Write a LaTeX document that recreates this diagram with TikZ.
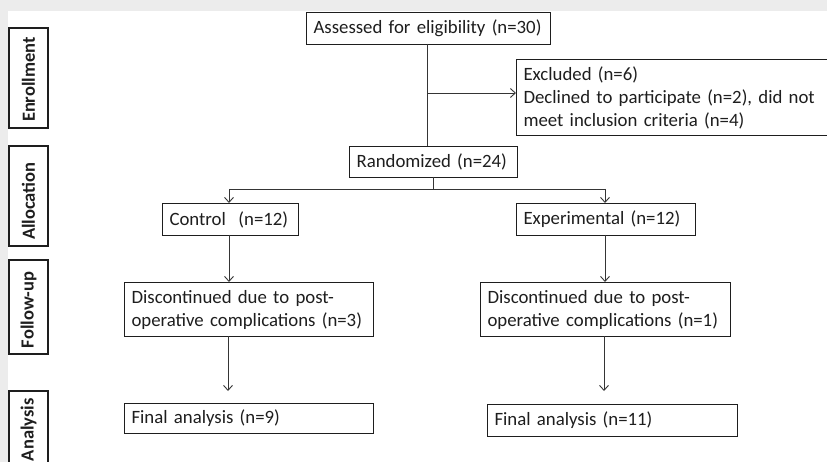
\documentclass[tikz,border=0pt]{standalone}
\usepackage{fontspec}
\setmainfont{Carlito}
\usetikzlibrary{arrows.meta}
\definecolor{bggray}{RGB}{236,236,236}
\definecolor{ink}{RGB}{30,30,30}
\begin{document}
\begin{tikzpicture}[x=1pt,y=-1pt,
  box/.style={draw=ink, line width=1.1pt, fill=white, anchor=north west,
    inner xsep=7pt, inner ysep=0pt, align=left, text=ink,
    font=\fontsize{18.8}{23}\selectfont},
  stage/.style={draw=ink, line width=1.1pt, fill=white, rotate=90,
    inner xsep=6pt, inner ysep=0pt, align=left, minimum height=39pt,
    text=ink, font=\fontsize{18.5}{22}\selectfont\bfseries},
  conn/.style={draw=ink!90, line width=0.9pt},
  arr/.style={conn, -{Straight Barb[length=5pt,width=9pt]}}]
\useasboundingbox (0,0) rectangle (827,462);
\fill[bggray] (0,0) rectangle (827,462);
\fill[white] (8,11) rectangle (828,463);

% stage labels
\node[stage, text width=88pt, minimum width=100pt] (enr) at (28.5,78) {Enrollment};
\node[stage, text width=88pt, minimum width=100pt] (alloc) at (28.5,196) {Allocation};
\node[stage, text width=82pt, minimum width=94pt] (fol) at (28.5,307) {Follow-up};
\node[stage, text width=64pt, minimum width=76pt] (ana) at (28.5,429) {Analysis};

% boxes
\node[box, text width=230pt, minimum height=32pt] (assess) at (306,12) {Assessed for eligibility (n=30)};
\node[box, text width=302pt, minimum height=76pt] (excl) at (516,59) {Excluded (n=6)\\Declined to participate (n=2), did not\\meet inclusion criteria (n=4)};
\node[box, text width=154pt, minimum height=31pt] (rand) at (349,146) {Randomized (n=24)};
\node[box, text width=122pt, minimum height=32pt] (ctrl) at (162,203) {Control~ (n=12)};
\node[box, text width=165pt, minimum height=32pt] (exper) at (516,203) {Experimental (n=12)};
\node[box, text width=235pt, minimum height=54pt] (disc1) at (124,282) {Discontinued due to post-\\operative complications (n=3)};
\node[box, text width=236pt, minimum height=54pt] (disc2) at (480,282) {Discontinued due to post-\\operative complications (n=1)};
\node[box, text width=235pt, minimum height=30pt] (fin1) at (124,403) {Final analysis (n=9)};
\node[box, text width=236pt, minimum height=32pt] (fin2) at (487,404) {Final analysis (n=11)};

% connectors
\coordinate (a0) at (427,44);
\coordinate (a1) at (427,93);
\coordinate (a2) at (427,146);
\draw[conn] (a0) -- (a2);
\draw[arr] (a1) -- (a1 -| excl.west);
\coordinate (r0) at (433,177);
\coordinate (r1) at (433,189);
\coordinate (sl) at (229,189);
\coordinate (sr) at (605,189);
\draw[conn] (r0) -- (r1);
\draw[conn] (sl) -- (sr);
\draw[arr] (sl) -- (sl |- ctrl.north);
\draw[arr] (sr) -- (sr |- exper.north);
\coordinate (c0) at (229,235);
\draw[arr] (c0) -- (c0 |- disc1.north);
\coordinate (e0) at (605,235);
\draw[arr] (e0) -- (e0 |- disc2.north);
\coordinate (d1) at (228,336);
\coordinate (d1e) at (228,391);
\draw[arr] (d1) -- (d1e);
\coordinate (d2) at (604,336);
\coordinate (d2e) at (604,391);
\draw[arr] (d2) -- (d2e);
\end{tikzpicture}
\end{document}
